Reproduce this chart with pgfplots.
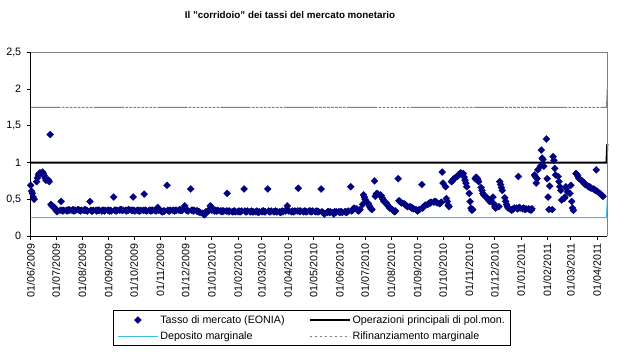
\documentclass[border=0pt]{standalone}
\usepackage{pgfplots}
\pgfplotsset{compat=1.18}
\usepackage{fontspec}
\setmainfont{Liberation Sans}
\definecolor{navyc}{RGB}{0,0,128}
\definecolor{cyanl}{RGB}{60,190,225}
\definecolor{grayl}{RGB}{128,128,128}
\newcommand{\fs}{\fontsize{10.7bp}{12bp}\selectfont}
\begin{document}
\begin{tikzpicture}
\begin{axis}[name=ax, scale only axis, width=576.6bp, height=183.7bp,
  xmin=0, xmax=681, ymin=0, ymax=2.5, clip=false,
  axis x line*=bottom, axis y line*=left,
  axis line style={black, line width=0.8bp, -},
  tick align=outside, major tick length=4bp, tick style={black, line width=0.8bp},
  ytick={0,0.5,1,1.5,2,2.5},
  xtick={0,30,61,92,122,153,183,214,245,273,304,334,365,395,426,457,487,518,548,579,610,638,669},
  xticklabels={01/06/2009,01/07/2009,01/08/2009,01/09/2009,01/10/2009,01/11/2009,01/12/2009,01/01/2010,01/02/2010,01/03/2010,01/04/2010,01/05/2010,01/06/2010,01/07/2010,01/08/2010,01/09/2010,01/10/2010,01/11/2010,01/12/2010,01/01/2011,01/02/2011,01/03/2011,01/04/2011},
  xticklabel style={rotate=90, anchor=east, font=\fs},
  yticklabel style={font=\fs, xshift=-2bp},
  /pgf/number format/use comma, /pgf/number format/assume math mode=true,
  legend columns=2, legend cell align=left,
  legend image code/.code={\draw[mark repeat=2,mark phase=2,#1] plot coordinates {(0bp,0bp) (20bp,0bp) (40bp,0bp)};},
  legend style={at={(0.1427,-0.403)}, anchor=north west, draw=black, line width=0.8bp, font=\fs,
    inner xsep=4bp, inner ysep=3bp, row sep=3bp,
    /tikz/column 2/.style={column sep=22bp}},
]
\addplot[only marks, mark=square*, mark size=2.5bp, mark options={rotate=45, draw=navyc, fill=navyc, line width=0.2bp}] coordinates {
(0,0.69)(1,0.61)(2,0.58)(3,0.53)(4,0.50)
(7,0.74)(8,0.79)(9,0.83)(10,0.85)(11,0.86)
(14,0.87)(15,0.85)(16,0.82)(17,0.79)(18,0.76)
(21,0.76)(22,0.74)(23,1.38)(24,0.43)(25,0.41)
(28,0.39)(29,0.37)(30,0.35)(31,0.33)(32,0.34)
(35,0.35)(36,0.47)(37,0.35)(38,0.34)(39,0.35)
(42,0.35)(43,0.34)(44,0.35)(45,0.36)(46,0.35)
(49,0.35)(50,0.36)(51,0.34)(52,0.35)(53,0.35)
(56,0.36)(57,0.35)(58,0.35)(59,0.34)(60,0.35)
(63,0.35)(64,0.36)(65,0.35)(66,0.35)(67,0.34)
(70,0.47)(71,0.35)(72,0.34)(73,0.34)(74,0.35)
(77,0.35)(78,0.34)(79,0.35)(80,0.35)(81,0.35)
(84,0.34)(85,0.35)(86,0.35)(87,0.34)(88,0.35)
(91,0.35)(92,0.35)(93,0.34)(94,0.35)(95,0.34)
(98,0.53)(99,0.35)(100,0.35)(101,0.34)(102,0.35)
(105,0.35)(106,0.36)(107,0.36)(108,0.35)(109,0.35)
(112,0.35)(113,0.34)(114,0.35)(115,0.35)(116,0.36)
(119,0.35)(120,0.35)(121,0.53)(122,0.35)(123,0.34)
(126,0.35)(127,0.35)(128,0.34)(129,0.34)(130,0.35)
(133,0.35)(134,0.57)(135,0.35)(136,0.35)(137,0.34)
(140,0.35)(141,0.35)(142,0.34)(143,0.35)(144,0.35)
(147,0.35)(148,0.34)(149,0.36)(150,0.39)(151,0.35)
(154,0.34)(155,0.33)(156,0.33)(157,0.34)(158,0.34)
(161,0.69)(162,0.35)(163,0.34)(164,0.34)(165,0.35)
(168,0.35)(169,0.35)(170,0.34)(171,0.35)(172,0.35)
(175,0.35)(176,0.36)(177,0.35)(178,0.35)(179,0.35)
(182,0.41)(183,0.36)(184,0.35)(185,0.35)(186,0.34)
(189,0.64)(190,0.35)(191,0.35)(192,0.34)(193,0.35)
(196,0.34)(197,0.34)(198,0.33)(199,0.33)(200,0.32)
(203,0.31)(204,0.30)(205,0.29)(206,0.30)(207,0.33)
(210,0.34)(211,0.36)(212,0.41)(213,0.40)(214,0.35)
(217,0.34)(218,0.35)(219,0.34)(220,0.34)(221,0.35)
(224,0.34)(225,0.34)(226,0.33)(227,0.34)(228,0.34)
(231,0.34)(232,0.58)(233,0.34)(234,0.33)(235,0.34)
(238,0.33)(239,0.33)(240,0.34)(241,0.34)(242,0.33)
(245,0.33)(246,0.34)(247,0.33)(248,0.33)(249,0.34)
(252,0.64)(253,0.34)(254,0.33)(255,0.33)(256,0.34)
(259,0.33)(260,0.33)(261,0.34)(262,0.33)(263,0.33)
(266,0.33)(267,0.34)(268,0.33)(269,0.32)(270,0.33)
(273,0.33)(274,0.34)(275,0.34)(276,0.33)(277,0.33)
(280,0.64)(281,0.34)(282,0.33)(283,0.33)(284,0.34)
(287,0.33)(288,0.33)(289,0.34)(290,0.33)(291,0.33)
(294,0.33)(295,0.32)(296,0.33)(297,0.34)(298,0.33)
(301,0.34)(302,0.36)(303,0.41)(304,0.35)(305,0.34)
(308,0.33)(309,0.34)(310,0.33)(311,0.33)(312,0.34)
(315,0.34)(316,0.65)(317,0.34)(318,0.33)(319,0.34)
(322,0.33)(323,0.34)(324,0.34)(325,0.33)(326,0.33)
(329,0.34)(330,0.34)(331,0.33)(332,0.33)(333,0.34)
(336,0.33)(337,0.33)(338,0.34)(339,0.33)(340,0.33)
(343,0.64)(344,0.33)(345,0.32)(346,0.31)(347,0.30)
(350,0.32)(351,0.33)(352,0.33)(353,0.32)(354,0.33)
(357,0.32)(358,0.30)(359,0.33)(360,0.32)(361,0.33)
(364,0.33)(365,0.32)(366,0.33)(367,0.33)(368,0.32)
(371,0.33)(372,0.33)(373,0.32)(374,0.33)(375,0.34)
(378,0.67)(379,0.34)(380,0.35)(381,0.37)(382,0.38)
(385,0.37)(386,0.35)(387,0.34)(388,0.35)(389,0.36)
(392,0.43)(393,0.56)(394,0.53)(395,0.50)(396,0.47)
(399,0.44)(400,0.41)(401,0.39)(402,0.37)(403,0.36)
(406,0.75)(407,0.54)(408,0.57)(409,0.58)(410,0.57)
(413,0.56)(414,0.55)(415,0.52)(416,0.50)(417,0.47)
(420,0.45)(421,0.43)(422,0.41)(423,0.40)(424,0.38)
(427,0.36)(428,0.35)(429,0.34)(430,0.33)(431,0.34)
(434,0.78)(435,0.48)(436,0.47)(437,0.46)(438,0.45)
(441,0.44)(442,0.43)(443,0.42)(444,0.41)(445,0.40)
(448,0.40)(449,0.39)(450,0.38)(451,0.38)(452,0.37)
(455,0.36)(456,0.35)(457,0.34)(458,0.35)(459,0.36)
(462,0.70)(463,0.38)(464,0.40)(465,0.41)(466,0.42)
(469,0.43)(470,0.44)(471,0.45)(472,0.45)(473,0.46)
(476,0.46)(477,0.47)(478,0.47)(479,0.46)(480,0.45)
(483,0.44)(484,0.45)(485,0.46)(486,0.87)(487,0.72)
(490,0.67)(491,0.51)(492,0.47)(493,0.42)(494,0.40)
(497,0.74)(498,0.75)(499,0.77)(500,0.78)(501,0.79)
(504,0.81)(505,0.83)(506,0.84)(507,0.85)(508,0.86)
(511,0.85)(512,0.80)(513,0.76)(514,0.72)(515,0.67)
(518,0.58)(519,0.47)(520,0.38)(521,0.35)(522,0.36)
(525,0.78)(526,0.80)(527,0.79)(528,0.77)(529,0.74)
(532,0.66)(533,0.62)(534,0.58)(535,0.56)(536,0.55)
(539,0.52)(540,0.50)(541,0.49)(542,0.47)(543,0.48)
(546,0.53)(547,0.44)(548,0.40)(549,0.38)(550,0.39)
(553,0.40)(554,0.74)(555,0.70)(556,0.66)(557,0.62)
(560,0.52)(561,0.47)(562,0.43)(563,0.40)(564,0.38)
(567,0.36)(568,0.35)(569,0.36)(570,0.37)(571,0.38)
(574,0.38)(575,0.37)(576,0.81)(577,0.39)(578,0.38)
(581,0.37)(582,0.38)(583,0.37)(584,0.36)(585,0.37)
(588,0.37)(589,0.36)(590,0.36)(591,0.35)(592,0.37)
(595,0.83)(596,0.81)(597,0.72)(598,0.78)(599,0.90)
(602,0.95)(603,1.17)(604,1.06)(605,1.04)(606,0.95)
(609,1.32)(610,0.78)(611,0.53)(612,0.36)(613,0.68)
(616,0.36)(617,1.08)(618,1.03)(619,0.92)(620,0.83)
(623,0.81)(624,0.74)(625,0.67)(626,0.62)(627,0.49)
(630,0.51)(631,0.53)(632,0.67)(633,0.65)(634,0.60)
(637,0.58)(638,0.69)(639,0.47)(640,0.38)(641,0.35)
(644,0.85)(645,0.84)(646,0.82)(647,0.79)(648,0.78)
(651,0.75)(652,0.74)(653,0.73)(654,0.71)(655,0.70)
(658,0.68)(659,0.67)(660,0.67)(661,0.66)(662,0.65)
(665,0.64)(666,0.63)(667,0.62)(668,0.90)(669,0.61)
(672,0.58)(673,0.57)(674,0.56)(675,0.55)(676,0.54)
};
\addlegendentry{Tasso di mercato (EONIA)}
\addplot[black, line width=2bp] coordinates {(0,1.00)(680,1.00)(681,1.25)};
\addlegendentry{Operazioni principali di pol.mon.}
\addplot[cyanl, line width=1bp] coordinates {(0,0.25)(680,0.25)(681,0.50)};
\addlegendentry{Deposito marginale}
\addplot[grayl, line width=1bp,
  dash pattern=on 30bp off 1.3bp on 2.7bp off 1.3bp on 2.7bp off 1.3bp on 2.7bp off 1.3bp on 2.7bp off 1.3bp on 2.7bp off 1.3bp on 2.7bp off 1.3bp on 2.7bp off 1.3bp on 2.7bp off 1.3bp,
  legend image code/.code={\draw[grayl, line width=0.8bp, dash pattern=on 2bp off 3bp] (0bp,0bp) -- (40bp,0bp);}]
  coordinates {(0,1.75)(680,1.75)(681,2.00)};
\addlegendentry{Rifinanziamento marginale}
\draw[grayl, line width=0.8bp] (rel axis cs:0,1) -- (rel axis cs:1,1) -- (rel axis cs:1,0);
\end{axis}
\node[font=\bfseries\fontsize{9.8bp}{11bp}\selectfont] at ([xshift=259.3bp, yshift=37.3bp]ax.north west) {Il \char34corridoio\char34{} dei tassi del mercato monetario};
\pgfresetboundingbox
\path[use as bounding box] ([xshift=-30.7bp,yshift=-118bp]ax.south west) rectangle ([xshift=11.7bp,yshift=52.3bp]ax.north east);
\end{tikzpicture}
\end{document}
